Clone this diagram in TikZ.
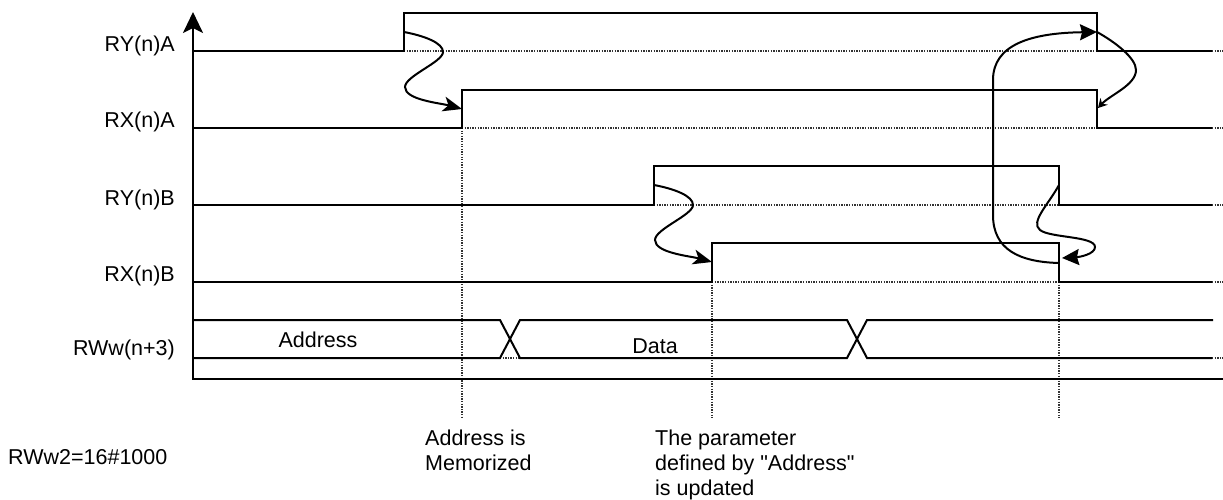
\documentclass[tikz,border=0pt]{standalone}
\usepackage{fontspec}
\setmainfont{Liberation Sans}
\newfontfamily\qfont{Liberation Sans}
\usetikzlibrary{arrows.meta}
\begin{document}
\begin{tikzpicture}[x=1pt,y=-1pt,
  sig/.style={line width=2.6pt,line join=miter},
  bus/.style={line width=2pt},
  dots/.style={line width=2pt,black!80,dash pattern=on 1.3pt off 1.3pt},
  curve/.style={line width=2pt},
  bighead/.style={-{Stealth[length=19pt,width=15pt,inset=5pt]}},
  tri/.style={-{Stealth[length=17pt,width=16pt,inset=2pt]}},
  smallhead/.style={-{Stealth[length=9pt,width=10pt,inset=3pt]}},
  lbl/.style={font=\fontsize{21.5}{25}\selectfont,inner sep=0pt}]
\useasboundingbox (0,0) rectangle (1223,500);
% dotted guides
\draw[dots] (404,51) -- (1097,51);
\draw[dots] (462,128) -- (1097,128);
\draw[dots] (654,205) -- (1059,205);
\draw[dots] (712,282) -- (1059,282);
\draw[dots] (462,128) -- (462,418);
\draw[dots] (712,282) -- (712,418);
\draw[dots] (1059,282) -- (1059,418);
\draw[dots] (500,358) -- (520,358);
\foreach \yy in {51,128,205,282,358} \draw[dots] (1212,\yy) -- (1223,\yy);
% axis
\draw[line width=2.6pt,-{Stealth[length=21pt,width=20pt,inset=5pt]}] (1223,379) -- (193,379) -- (193,12);
% signals
\draw[sig] (193,51) -- (404,51) -- (404,13) -- (1097,13) -- (1097,51) -- (1212,51);
\draw[sig] (193,128) -- (462,128) -- (462,90) -- (1097,90) -- (1097,128) -- (1212,128);
\draw[sig] (193,205) -- (654,205) -- (654,166) -- (1059,166) -- (1059,205) -- (1212,205);
\draw[sig] (193,282) -- (712,282) -- (712,243) -- (1059,243) -- (1059,282) -- (1212,282);
% bus
\draw[bus] (193,320) -- (500,320) -- (520,358) -- (847,358) -- (867,320) -- (1213,320);
\draw[bus] (193,358) -- (500,358) -- (520,320) -- (847,320) -- (867,358) -- (1212,358);
% named points for handshake arrows
\coordinate (yaR) at (404,32);
\coordinate (xaR) at (462,109);
\coordinate (ybR) at (654,185);
\coordinate (xbR) at (712,262);
\coordinate (yaF) at (1097,32);
\coordinate (xaF) at (1098,108);
\coordinate (ybF) at (1059,185);
\coordinate (xbF) at (1062,258);
\coordinate (xbL) at (1059,263);
% curves
\draw[curve,bighead] (yaR) .. controls (425,36) and (443,43) .. (443,52) .. controls (443,62) and (405,76) .. (405,87) .. controls (405,100) and (440,103) .. (xaR);
\draw[curve,bighead] (ybR) .. controls (675,189) and (693,196) .. (693,205) .. controls (693,215) and (655,229) .. (655,240) .. controls (655,253) and (690,256) .. (xbR);
\draw[curve,smallhead] (yaF) .. controls (1115,42) and (1136,58) .. (1136,70) .. controls (1136,85) and (1110,95) .. (xaF);
\draw[curve,tri] (ybF) .. controls (1048,205) and (1030,222) .. (1040,230) .. controls (1050,238) and (1095,236) .. (1095,247) .. controls (1095,254) and (1080,257) .. (xbF);
\draw[curve,tri] (xbL) .. controls (1020,262) and (993,250) .. (993,215) -- (993,80) .. controls (993,45) and (1030,33) .. (yaF);
% labels
\node[lbl,anchor=base east] (lRYA) at (175,52) {RY(n)A};
\node[lbl,anchor=base east] (lRXA) at (175,128) {RX(n)A};
\node[lbl,anchor=base east] (lRYB) at (175,205) {RY(n)B};
\node[lbl,anchor=base east] (lRXB) at (175,281) {RX(n)B};
\node[lbl,anchor=base east] (lRW) at (175,355) {RWw(n+3)};
\node[lbl,anchor=base] (tAddr) at (318,347) {Address};
\node[lbl,anchor=base] (tData) at (655,353) {Data};
\node[lbl,anchor=base west] (tRWw2) at (8,464) {RWw2=16\#1000};
\node[lbl,anchor=base west] (tMem1) at (425,445) {Address is};
\node[lbl,anchor=base west] (tMem2) at (425,470) {Memorized};
\node[lbl,anchor=base west] (tUpd1) at (655,445) {The parameter};
\node[lbl,anchor=base west] (tUpd2) at (655,470) {defined by {\qfont"}Address{\qfont"}};
\node[lbl,anchor=base west] (tUpd3) at (655,495) {is updated};
\end{tikzpicture}
\end{document}
